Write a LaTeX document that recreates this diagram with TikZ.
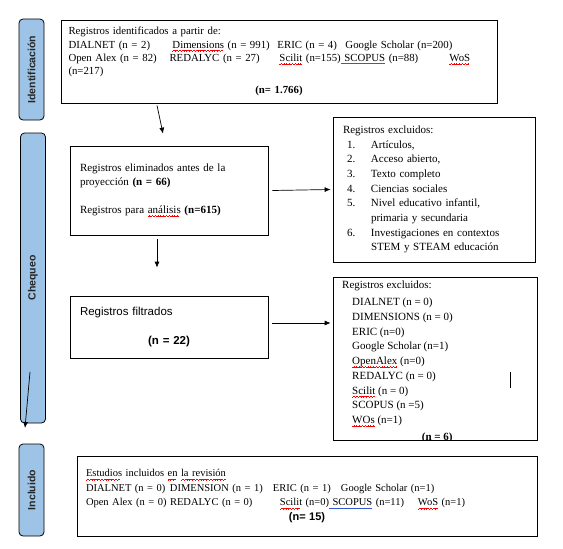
\documentclass[tikz,border=0pt]{standalone}
\usepackage{fontspec}
\setmainfont{Liberation Serif}
\setsansfont{Liberation Sans}
\usetikzlibrary{arrows.meta}

\definecolor{fasebg}{RGB}{157,195,230}
\definecolor{azulul}{RGB}{50,90,210}
% subrayados del corrector
\newcommand\ondita{\hbox{\rule[-3.4pt]{0.7pt}{0.55pt}\rule[-2.9pt]{0.7pt}{0.55pt}\rule[-2.4pt]{0.7pt}{0.55pt}\rule[-2.9pt]{0.7pt}{0.55pt}}}
\newcommand\redwave[1]{\setbox0\hbox{#1}\rlap{\textcolor{red}{\leaders\ondita\hskip\wd0}}#1}
\newcommand\blueline[1]{\setbox0\hbox{#1}\rlap{\textcolor{azulul}{\rule[-2.5pt]{\wd0}{0.6pt}}}#1}
\newcommand\punto[2]{\hspace*{4pt}\makebox[24pt][l]{#1}#2}

\tikzset{
  fase/.style={draw, rounded corners=4pt, fill=fasebg, line width=0.8pt, minimum height=25pt,
    rotate=90, text=black!85, font=\sffamily\bfseries\fontsize{10.5}{12}\selectfont},
  caja/.style={draw, line width=0.7pt, align=left, inner ysep=0pt,
    font=\fontsize{11}{14}\selectfont},
  flecha/.style={-{Latex[length=6pt,width=5pt]}, line width=0.7pt}
}

\begin{document}
\begin{tikzpicture}[x=1pt,y=-1pt]
    \useasboundingbox (0,0) rectangle (563,549);
    % fases
    \node[fase, minimum width=101pt] (idf) at (31.5,69.5) {Identificación};
    \node[fase, minimum width=290pt] (chq) at (33,278) {Chequeo};
    \node[fase, minimum width=92pt] (inc) at (31.5,490) {Incluido};

    % cajas
    \node[caja, minimum width=436pt, minimum height=83pt, inner xsep=7.5pt, text width=421pt,
      font=\fontsize{10.8}{13.3}\selectfont] (reg) at (279,61.5) {Registros identificados a partir de:\\
      \makebox[104pt][l]{DIALNET (n = 2)}\makebox[105pt][l]{\redwave{Dimensions} (n = 991)}\makebox[68pt][l]{ERIC (n = 4)}Google Scholar (n=200)\\
      \makebox[101pt][l]{Open Alex (n = 82)}\makebox[110pt][l]{REDALYC (n = 27)}\makebox[170pt][l]{\redwave{Scilit} (n=155)\blueline{\ SCOPUS} (n=88)}\redwave{WoS}\\
      (n=217)\\[5.5pt]
      \makebox[\linewidth]{\textbf{(n= 1.766)}}};
    \node[caja, minimum width=198pt, minimum height=89pt, inner xsep=10pt, text width=178pt] (elim) at (169,190.5)
      {Registros eliminados antes de la\\ proyección \textbf{(n = 66)}\\[14pt]
      Registros para \redwave{análisis} \textbf{(n=615)}};
    \node[caja, minimum width=202pt, minimum height=145pt, inner xsep=10pt, text width=182pt,
      font=\fontsize{11}{14.7}\selectfont] (excl) at (434,189.5) {Registros excluidos:\\
      \punto{1.}{Artículos,}\\
      \punto{2.}{Acceso abierto,}\\
      \punto{3.}{Texto completo}\\
      \punto{4.}{Ciencias sociales}\\
      \punto{5.}{Nivel educativo infantil,}\\
      \hspace*{28pt}primaria y secundaria\\
      \punto{6.}{Investigaciones en contextos}\\
      \hspace*{28pt}STEM y STEAM educación};
    \node[caja, minimum width=198pt, minimum height=62pt, inner xsep=10pt, text width=178pt,
      font=\sffamily\fontsize{11.5}{14}\selectfont] (filt) at (169,327)
      {Registros filtrados\\[15pt] \makebox[\linewidth]{\textbf{(n = 22)}}};
    \node[caja, minimum width=204pt, minimum height=163pt] (excl2) at (435,358.5) {};
    \begin{scope}
      \clip (excl2.north west) rectangle (excl2.south east);
      \node[anchor=north west, align=left, inner sep=0pt, font=\fontsize{11}{14.75}\selectfont] (lista) at (342,281)
        {Registros excluidos:\\[2pt]
        \hspace*{10pt}DIALNET (n = 0)\\
        \hspace*{10pt}DIMENSIONS (n = 0)\\
        \hspace*{10pt}ERIC (n=0)\\
        \hspace*{10pt}Google Scholar (n=1)\\
        \hspace*{10pt}\redwave{OpenAlex} (n=0)\\
        \hspace*{10pt}REDALYC (n = 0)\\
        \hspace*{10pt}\redwave{Scilit} (n = 0)\\
        \hspace*{10pt}SCOPUS (n =5)\\
        \hspace*{10pt}\redwave{WOs} (n=1)\\[2pt]
        \makebox[190pt]{\textbf{(n = 6)}}};
    \end{scope}
    \node[caja, minimum width=460pt, minimum height=80pt, inner xsep=9pt, text width=442pt,
      font=\fontsize{10.5}{14.5}\selectfont] (estud) at (307,496) {\redwave{Estudios} incluidos \redwave{en} \redwave{la revisión}\\
      \makebox[84pt][l]{DIALNET (n = 0)}\makebox[103pt][l]{DIMENSION (n = 1)}\makebox[68pt][l]{ERIC (n = 1)}Google Scholar (n=1)\\
      \makebox[84pt][l]{Open Alex (n = 0)}\makebox[110pt][l]{REDALYC (n = 0)}\makebox[138pt][l]{\redwave{Scilit} (n=0)\blueline{\ SCOPUS} (n=11)}\redwave{WoS} (n=1)\\
      \makebox[\linewidth]{\sffamily\bfseries\fontsize{11}{14.5}\selectfont (n= 15)}};

    % flechas
    \draw[flecha] ([xshift=-122pt,yshift=-2pt]reg.south) -- ([xshift=-6pt,yshift=12pt]elim.north);
    \draw[flecha] ([xshift=4pt]elim.east) -- ([xshift=-2pt]excl.west);
    \draw[flecha] ([xshift=-12pt,yshift=-4pt]elim.south) -- ([xshift=-12pt,yshift=28pt]filt.north);
    \draw[flecha] ([xshift=4pt,yshift=4pt]filt.east) -- ([xshift=-2pt,yshift=35.5pt]excl2.west);
    \coordinate (cqa) at (30,372);
    \coordinate (cqb) at (25,428);
    \draw[flecha] (cqa) -- (cqb);
    \draw[line width=0.8pt] (510,372) -- (510,388);
\end{tikzpicture}
\end{document}
